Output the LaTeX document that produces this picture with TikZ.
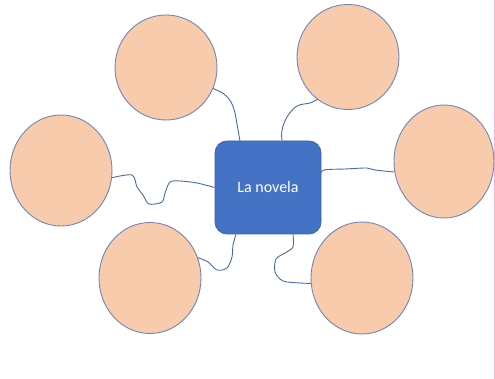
\documentclass[tikz,border=0pt]{standalone}
\usepackage{fontspec}
\setmainfont{Carlito}
\usetikzlibrary{shapes.geometric}
\definecolor{peach}{HTML}{F8CBAD}
\definecolor{ringc}{HTML}{7186B8}
\definecolor{wirec}{HTML}{4A6BAA}
\definecolor{boxfill}{HTML}{4472C4}
\definecolor{boxline}{HTML}{3B63AD}
\definecolor{edgepink}{HTML}{F4B8D0}
\tikzset{
  bubble/.style={ellipse, draw=ringc, line width=0.9pt, fill=peach, inner sep=0pt},
  topic/.style={draw=boxline, line width=0.8pt, fill=boxfill, rounded corners=12pt,
    minimum width=106pt, minimum height=93pt, inner sep=0pt, text=white,
    font=\fontsize{16}{19}\selectfont},
  wire/.style={draw=wirec, line width=0.9pt},
}
\begin{document}
\begin{tikzpicture}[x=1pt,y=-1pt]
\useasboundingbox (0,0) rectangle (495,379);
\fill[white] (0,0) rectangle (495,379);
\draw[edgepink, line width=0.8pt] (494,0) -- (494,379);

\node[bubble, minimum width=102pt, minimum height=105pt] (e1) at (166,67.5) {};
\node[bubble, minimum width=102pt, minimum height=105pt] (e2) at (348,57) {};
\node[bubble, minimum width=102pt, minimum height=111pt] (e3) at (61,170.5) {};
\node[bubble, minimum width=100pt, minimum height=113pt] (e4) at (444,161.5) {};
\node[bubble, minimum width=102pt, minimum height=111pt] (e5) at (150,278) {};
\node[bubble, minimum width=102pt, minimum height=112pt] (e6) at (362,278) {};

\node[topic] (box) at (268,187.5) {La novela};

\draw[wire] plot[smooth, tension=0.6] coordinates {(e1.-24) (224,94) (231,102) (235,113) (237,124) (240,141)};
\draw[wire] plot[smooth, tension=0.6] coordinates {([xshift=14pt]box.north) (282,130) (287,117) (297,106) (310,103) (e2.-126)};
\draw[wire] plot[smooth, tension=0.5] coordinates {(e3.-8) (132,175) (137,187) (143,195) (149,204) (162,202) (165,193) (170,182) (180,181) (197,183) (box.west)};
\draw[wire] plot[smooth, tension=0.5] coordinates {([xshift=-2pt,yshift=12pt]box.east) (324,170) (345,169) (367,168) (375,170) (e4.-168)};
\draw[wire] plot[smooth, tension=0.5] coordinates {([xshift=25pt]box.south) (293,247) (285,253) (276,259) (275,272) (283,281) (300,283) (e6.-174)};
\draw[wire] plot[smooth, tension=0.5] coordinates {([xshift=-32pt]box.south) (233,245) (232,257) (227,268) (217,270) (208,262) (e5.23)};
\end{tikzpicture}
\end{document}
